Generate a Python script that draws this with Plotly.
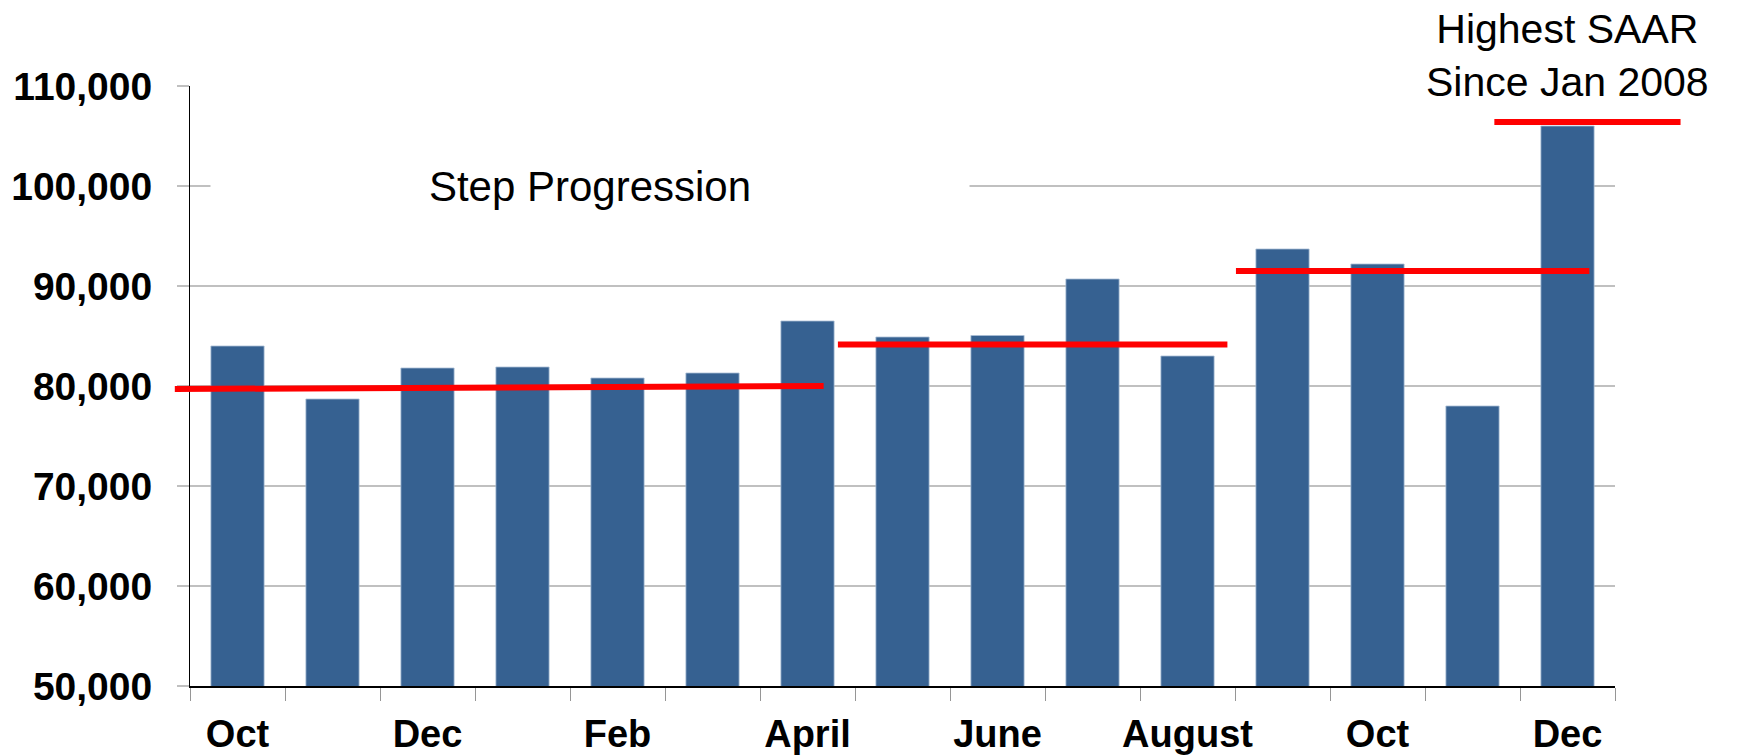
"""Monthly SAAR bar chart with red step-progression lines."""

import plotly.graph_objects as go

FONT = 'Liberation Sans, Arial, sans-serif'
BAR_COLOUR = 'rgb(54, 97, 145)'
STEP_COLOUR = 'rgb(255, 0, 0)'
GRID_COLOUR = 'rgb(192, 192, 192)'

months = ['Oct', 'Nov', 'Dec', 'Jan', 'Feb', 'Mar', 'April', 'May',
          'June', 'July', 'August', 'Sep', 'Oct', 'Nov', 'Dec']
saar = [84000, 78700, 81800, 81900, 80800, 81300, 86500, 84900,
        85050, 90700, 83000, 93700, 92200, 78000, 106000]

# step lines: start / end in category units, level at each end
step_start = [-0.66, 6.32, 10.51, 13.23]
step_end = [6.17, 10.42, 14.23, 15.19]
step_level_start = [79700, 84150, 91500, 106400]
step_level_end = [80000, 84150, 91500, 106400]

y_ticks = [50000, 60000, 70000, 80000, 90000, 100000, 110000]

X_RANGE = [-0.5, len(months) - 0.5]


def to_paper_x(x: float) -> float:
    """Map a category-unit x onto paper coordinates of the x axis."""
    return (x - X_RANGE[0]) / (X_RANGE[1] - X_RANGE[0])


x_vals = list(range(len(months)))

fig = go.Figure(go.Bar(
    x=x_vals,
    y=saar,
    width=0.56,
    marker=dict(color=BAR_COLOUR, line=dict(width=0.8, color='rgb(170, 190, 214)')),
    showlegend=False,
))

# red steps can run past the ends of the x axis, so x is given in paper units
for x0, x1, y0, y1 in zip(step_start, step_end, step_level_start, step_level_end):
    fig.add_shape(type='line', xref='paper', yref='y',
                  x0=to_paper_x(x0), x1=to_paper_x(x1), y0=y0, y1=y1,
                  line=dict(color=STEP_COLOUR, width=6), layer='above')

# the note's text box hides the right end of the top gridline
fig.add_shape(type='rect', xref='paper', yref='paper',
              x0=0.828, x1=1.0, y0=0.994, y1=1.006,
              fillcolor='white', line=dict(width=0), layer='above')

fig.add_annotation(x=3.71, y=100000, xref='x', yref='y',
                   text='Step Progression', showarrow=False,
                   font=dict(family=FONT, size=42, color='black'),
                   bgcolor='white', width=756)
fig.add_annotation(x=14, y=1.05, xref='x', yref='paper',
                   xanchor='center', yanchor='middle',
                   text='Highest SAAR<br>Since Jan 2008', showarrow=False,
                   font=dict(family=FONT, size=41, color='black'),
                   borderpad=0)

fig.update_layout(
    width=1737, height=755,
    margin=dict(l=182, r=130, t=78, b=77),
    plot_bgcolor='white', paper_bgcolor='white',
    font=dict(family=FONT, color='black'),
    bargap=0.44,
)
fig.update_xaxes(
    range=X_RANGE,
    automargin=False,
    tickmode='array',
    tickvals=x_vals[::2],
    ticktext=months[::2],
    ticks='', ticklen=0,
    tickfont=dict(family=FONT, size=38, weight=700),
    ticklabelstandoff=13,
    minor=dict(ticks='outside', tick0=-0.5, dtick=1, ticklen=13,
               tickcolor='rgb(150, 150, 150)', tickwidth=1, showgrid=False),
    showline=True, linecolor='black', linewidth=2,
    showgrid=False, zeroline=False,
)
fig.update_yaxes(
    range=[50000, 110000],
    automargin=False,
    tickmode='array', tickvals=y_ticks, tickformat=',d',
    ticks='outside', ticklen=12, tickcolor=GRID_COLOUR, tickwidth=1.5,
    tickfont=dict(family=FONT, size=39, weight=700),
    ticklabelstandoff=17,
    showline=True, linecolor='black', linewidth=1,
    showgrid=True, gridcolor=GRID_COLOUR, gridwidth=1.5,
    zeroline=False,
)

fig.write_html('out.html')
